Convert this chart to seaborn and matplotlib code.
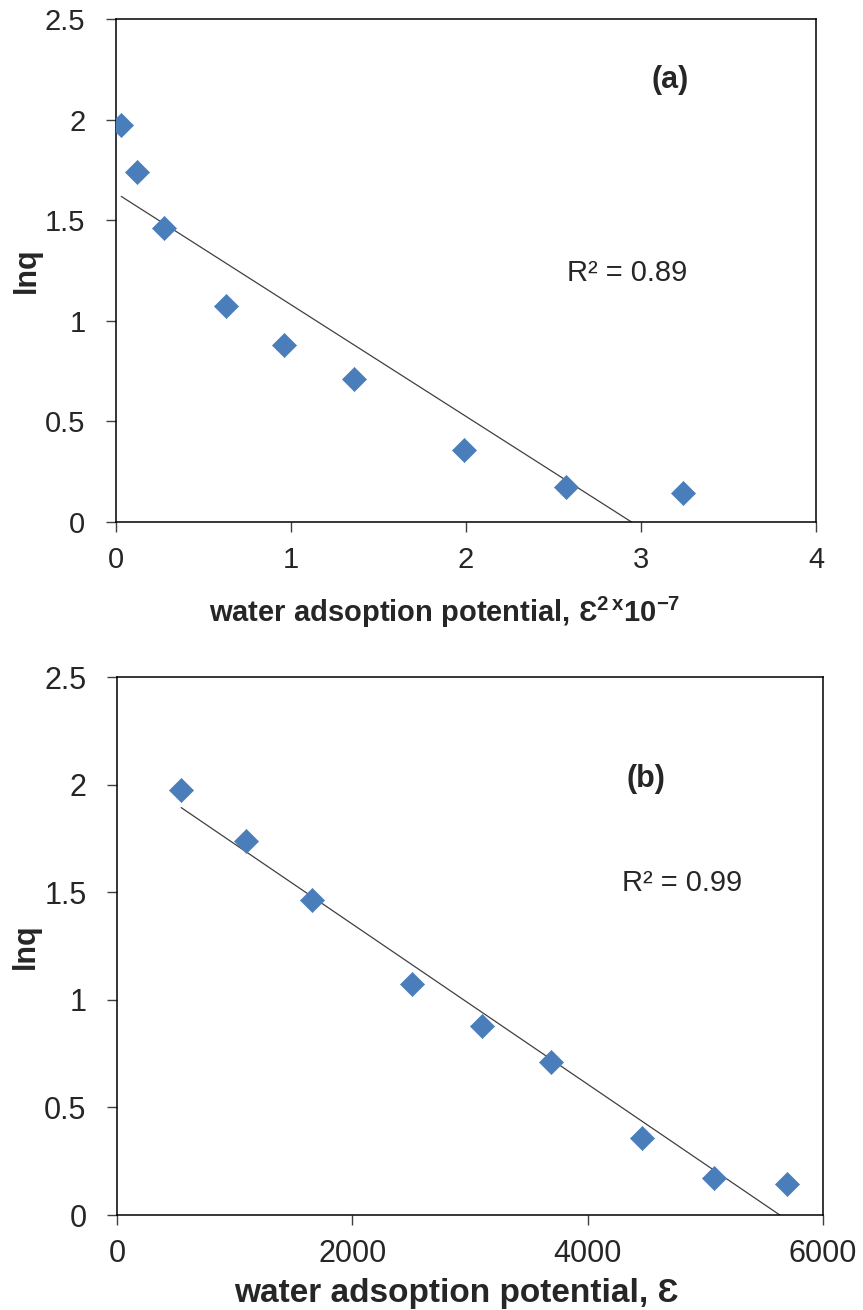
import numpy as np
import pandas as pd
import matplotlib
matplotlib.use("Agg")
import matplotlib.pyplot as plt
import seaborn as sns

# Adsorption potential (epsilon) and ln q for the isotherm points
epsilon = [545, 1098, 1660, 2511, 3098, 3685, 4460, 5072, 5694]
epsilon_sq_e7 = [0.03, 0.12, 0.276, 0.63, 0.96, 1.36, 1.99, 2.573, 3.24]
lnq = [1.975, 1.74, 1.463, 1.072, 0.88, 0.71, 0.356, 0.173, 0.142]

xticks_a = [0, 1, 2, 3, 4]
xticks_b = [0, 2000, 4000, 6000]
yticks = [0, 0.5, 1, 1.5, 2, 2.5]
ytick_labels = ["0", "0.5", "1", "1.5", "2", "2.5"]

r2_a = "R² = 0.89"
r2_b = "R² = 0.99"

sns.set_theme(style="ticks")
plt.rcParams["font.family"] = ["Liberation Sans", "DejaVu Sans"]
plt.rcParams["mathtext.fontset"] = "custom"
plt.rcParams["mathtext.rm"] = "Liberation Sans"
plt.rcParams["mathtext.bf"] = "Liberation Sans:bold"

MARKER_COLOR = "#4A7EBB"
LINE_COLOR = "#404040"

df = pd.DataFrame({"eps": epsilon, "eps2": epsilon_sq_e7, "lnq": lnq})

fig = plt.figure(figsize=(8.63, 13.1), dpi=100)
ax_a = fig.add_axes([0.1344, 0.6015, 0.8111, 0.3840])
ax_b = fig.add_axes([0.1356, 0.0725, 0.8181, 0.4107])


def draw_panel(ax, xcol, xlim, xticks, tick_size, xlabel, xlabel_size, xlabel_pad,
               xlabel_x, tag, tag_xy, r2, r2_xy):
    sns.regplot(data=df, x=xcol, y="lnq", ax=ax, scatter=False, ci=None,
                truncate=True, line_kws=dict(color=LINE_COLOR, lw=0.9))
    sns.scatterplot(data=df, x=xcol, y="lnq", ax=ax, marker="D", s=150,
                    color=MARKER_COLOR, edgecolor=MARKER_COLOR, linewidth=0.5,
                    zorder=3)
    ax.set_xlim(*xlim)
    ax.set_ylim(0, 2.5)
    ax.set_xticks(xticks)
    ax.set_xticklabels([str(t) for t in xticks])
    ax.set_yticks(yticks)
    ax.set_yticklabels(ytick_labels)
    ax.tick_params(axis="both", direction="out", length=7, width=1,
                   color="#404040", labelsize=tick_size)
    ax.tick_params(axis="y", pad=15)
    ax.tick_params(axis="x", pad=10)
    for side in ["left", "bottom", "top", "right"]:
        ax.spines[side].set_visible(True)
        ax.spines[side].set_color("black")
        ax.spines[side].set_linewidth(1.1)
    ax.set_xlabel(xlabel, fontsize=xlabel_size, fontweight="bold", labelpad=xlabel_pad)
    ax.xaxis.label.set_x(xlabel_x)
    ax.set_ylabel("lnq", fontsize=22, fontweight="bold", labelpad=2)
    ax.text(tag_xy[0], tag_xy[1], tag, transform=ax.transAxes,
            fontsize=22, fontweight="bold", ha="center", va="center")
    ax.text(r2_xy[0], r2_xy[1], r2, transform=ax.transAxes,
            fontsize=21, ha="center", va="center")
    ax.grid(False)


draw_panel(ax_a, "eps2", (0, 4), xticks_a, 21,
           r"water adsoption potential, Ɛ$^{\mathbf{2\,x}}$$\mathbf{10}^{\mathbf{-7}}$",
           21, 15, 0.47,
           "(a)", (0.792, 0.878), r2_a, (0.73, 0.496))
draw_panel(ax_b, "eps", (0, 6000), xticks_b, 22,
           "water adsoption potential, Ɛ", 24, 7, 0.48,
           "(b)", (0.749, 0.81), r2_b, (0.80, 0.618))

fig.savefig("out.png", dpi=100, facecolor="white")
